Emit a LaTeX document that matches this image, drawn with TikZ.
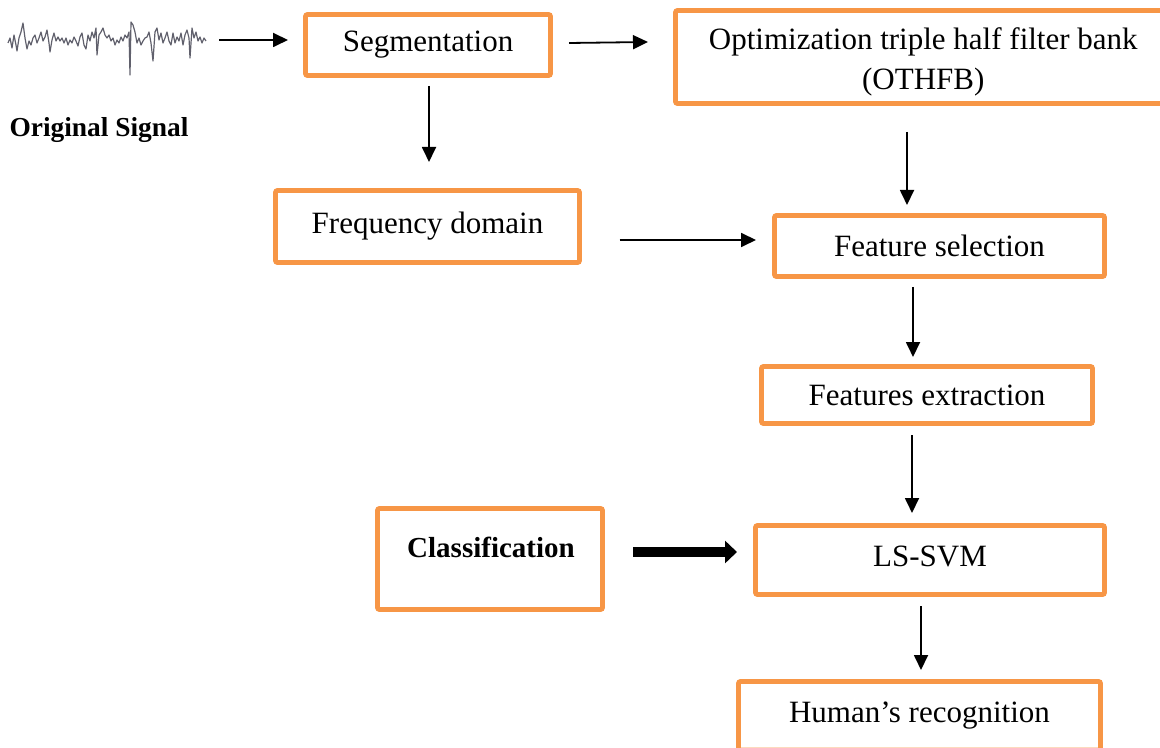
\documentclass[tikz,border=0pt]{standalone}
\usepackage{fontspec}
\setmainfont{Liberation Serif}
\usetikzlibrary{arrows.meta}
\definecolor{boxorange}{HTML}{F79646}
\definecolor{wave}{HTML}{60606C}
\begin{document}
\begin{tikzpicture}[x=0.5pt,y=-0.5pt,
  box/.style={draw=boxorange,line width=2.4pt,rounded corners=1pt,inner sep=0pt,outer sep=0pt,
    font=\fontsize{15.5}{20}\selectfont,align=center},
  boxtext/.style={font=\fontsize{15.5}{20}\selectfont,align=center},
  arr/.style={line width=0.9pt,-{Triangle[length=7.5pt,width=7pt]}},
  thickarr/.style={line width=5pt,-{Triangle[length=6pt,width=11pt]}},
  boldlbl/.style={font=\fontsize{14.5}{17}\selectfont\bfseries}]
\useasboundingbox (0,0) rectangle (1160,748);

% signal waveform
\draw[wave,line width=0.6pt,line join=round] plot coordinates {
(8,43) (10,38) (12,48) (14,35) (16,45) (17,51) (19,38) (21,32) (23,23) (25,38) (27,49) (29,41)
(31,45) (33,38) (35,35) (37,43) (39,38) (41,32) (43,41) (45,37) (47,30) (49,43) (50,52) (52,40)
(54,33) (56,41) (58,37) (60,41) (62,38) (64,43) (66,38) (68,45) (70,40) (72,43) (74,37) (76,41)
(78,46) (80,37) (82,33) (84,45) (86,49) (88,35) (90,41) (92,32) (94,38) (96,28) (97,55) (99,35)
(101,32) (103,28) (105,35) (107,38) (109,35) (111,41) (113,38) (115,45) (117,40) (119,43) (121,37)
(123,41) (125,35) (127,38) (129,32) (130,75) (131,22) (133,25) (135,32) (137,43) (139,38) (141,45)
(143,41) (145,38) (147,37) (149,32) (151,43) (153,61) (155,32) (157,28) (159,40) (161,33) (163,43)
(165,38) (167,32) (169,41) (171,45) (173,33) (175,43) (177,37) (179,41) (181,33) (183,45) (185,35)
(187,30) (189,38) (190,58) (192,28) (194,38) (196,32) (198,41) (200,37) (202,43) (204,38) (206,41)};
\coordinate (sigEnd) at (219,40);
\node[font=\fontsize{13.7}{16}\selectfont\bfseries,inner sep=0pt] (origT) at (99,130) {Original Signal};

% boxes
\node[box,minimum width=122.5pt,minimum height=30.5pt] (seg) at (428,45) {Segmentation};
\node[box,minimum width=243.75pt,minimum height=46.5pt,
  label={[boxtext,yshift=-2.5pt,xshift=2pt,name=othfbT]center:Optimization triple half filter bank\\(OTHFB)}]
  (othfb) at (919.25,57) {};
\node[box,minimum width=152pt,minimum height=36pt] (freq) at (427.5,226.5) {Frequency domain};
\node[box,minimum width=165pt,minimum height=30.5pt] (fsel) at (939.5,246) {Feature selection};
\node[box,minimum width=165.5pt,minimum height=28.5pt] (fext) at (927,395) {Features extraction};
\node[box,minimum width=112.5pt,minimum height=50.5pt,
  label={[boldlbl,yshift=6pt,xshift=0.5pt,name=classT]center:Classification}] (class) at (490,559) {};
\node[box,minimum width=174.5pt,minimum height=34.5pt,
  label={[boxtext,yshift=2pt,name=lssvmT]center:LS-SVM}] (lssvm) at (930,560) {};
\node[box,minimum width=181pt,minimum height=34.25pt] (human) at (919.5,715.75) {Human’s recognition};

% connectors
\draw[arr] (sigEnd) -- ([shift={(-17.5,-5)}]seg.west);
\draw[arr] ([shift={(18.5,-2)}]seg.east) -- ([shift={(-27.5,-15)}]othfb.west);
\draw[arr] ([shift={(1,10.5)}]seg.south) -- ([shift={(1.5,-28.5)}]freq.north);
\draw[arr] ([shift={(-12.25,28.5)}]othfb.south) -- ([shift={(-32.5,-10.5)}]fsel.north);
\draw[arr] ([shift={(40,13.5)}]freq.east) -- ([shift={(-18.5,-6)}]fsel.west);
\draw[arr] ([shift={(-26.5,10.5)}]fsel.south) -- ([shift={(-14,-9.5)}]fext.north);
\draw[arr] ([shift={(-15,11.5)}]fext.south) -- ([shift={(-18,-12.5)}]lssvm.north);
\draw[thickarr] ([shift={(30.5,-7)}]class.east) -- ([shift={(-18.5,-8)}]lssvm.west);
\draw[arr] ([shift={(-9,11.5)}]lssvm.south) -- ([shift={(1.5,-11.5)}]human.north);
\end{tikzpicture}
\end{document}
